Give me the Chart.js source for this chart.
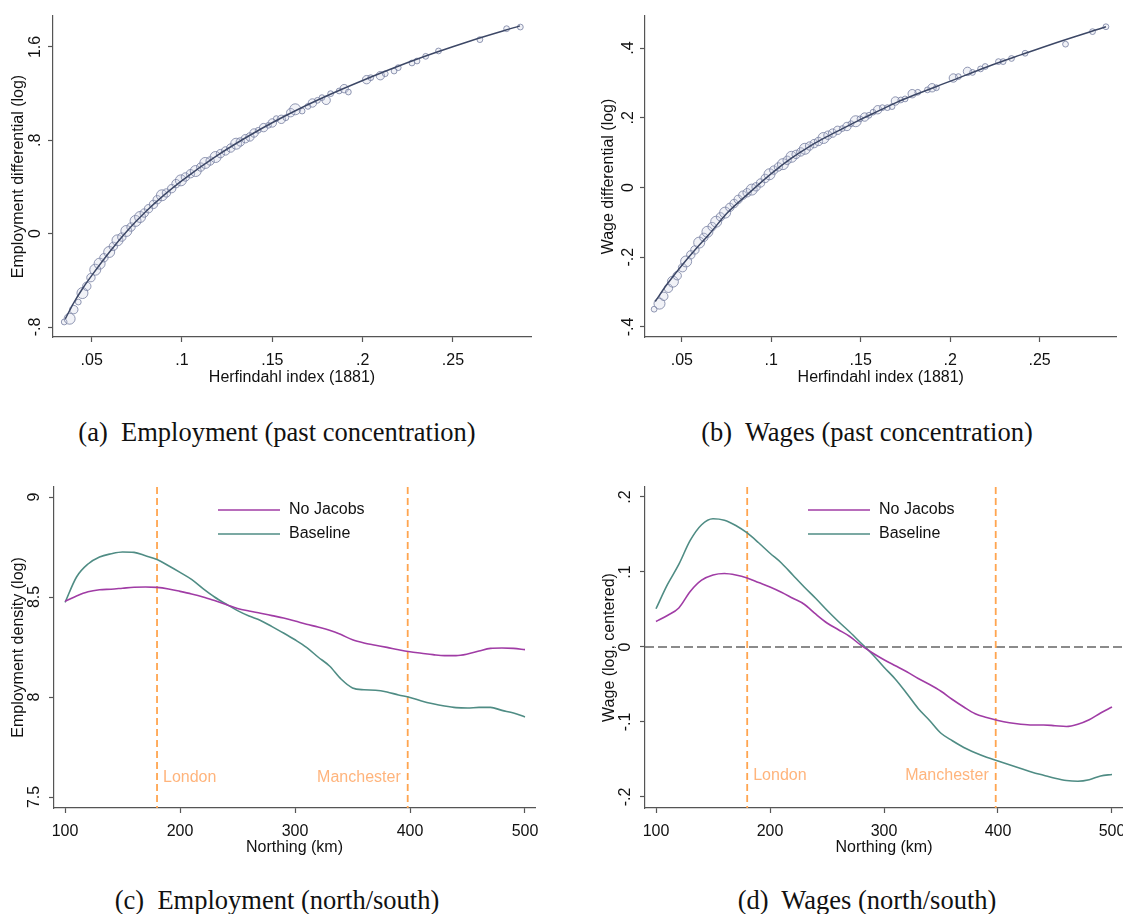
<!DOCTYPE html>
<html>
<head>
<meta charset="utf-8">
<title>Konzentration und Nord/Süd-Gefälle</title>
<script src="https://cdn.jsdelivr.net/npm/chart.js@4.4.1/dist/chart.umd.min.js"></script>
<style>
  body { margin: 0; background: #fff; }
  #page { position: relative; width: 1123px; height: 914px; overflow: hidden; }
  .panel { position: absolute; }
  .caption {
    position: absolute; width: 560px; text-align: center;
    font-family: "Liberation Serif", "Times New Roman", serif;
    font-size: 26.5px; line-height: 30px; color: #111; white-space: nowrap;
  }
</style>
</head>
<body>
<div id="page">
  <canvas id="chartA" class="panel" width="545" height="400" style="left:0;top:0"></canvas>
  <canvas id="chartB" class="panel" width="543" height="400" style="left:580px;top:0"></canvas>
  <canvas id="chartC" class="panel" width="545" height="400" style="left:0;top:470px"></canvas>
  <canvas id="chartD" class="panel" width="533" height="400" style="left:590px;top:470px"></canvas>
  <div class="caption" style="left:-3px;top:417px">(a)&nbsp; Employment (past concentration)</div>
  <div class="caption" style="left:587px;top:417px">(b)&nbsp; Wages (past concentration)</div>
  <div class="caption" style="left:-3px;top:885px">(c)&nbsp; Employment (north/south)</div>
  <div class="caption" style="left:587px;top:885px">(d)&nbsp; Wages (north/south)</div>
</div>
<script>
// Herfindahl-Index 1881 und Beschäftigungsdifferenzial (Punkte, Gewicht = Kreisgröße)
const empHerf = [.0348,.0378,.0401,.0426,.0449,.0473,.0496,.052,.0544,.0568,
  .0597,.062,.0643,.0667,.0692,.0718,.0743,.0768,.0791,.0815,
  .0842,.0863,.0889,.0914,.0943,.0967,.0994,.1019,.1047,.1076,
  .1104,.1129,.1156,.1186,.1213,.1241,.127,.13,.1323,.1351,
  .1376,.1399,.1422,.1452,.1479,.15,.1522,.155,.1575,.1602,
  .1627,.1665,.1697,.1722,.175,.1775,.1798,.1823,.187,.1898,
  .1921,.2022,.2045,.2098,.2125,.2174,.2197,.2273,.2301,.2349,
  .242,.2649,.2797,.2873];
const empDiff = [-.757,-.729,-.651,-.586,-.509,-.451,-.377,-.309,-.257,-.206,
  -.157,-.109,-.057,-.029,.023,.057,.109,.143,.177,.214,
  .251,.291,.329,.349,.386,.429,.457,.486,.514,.537,
  .571,.606,.623,.657,.686,.709,.734,.771,.786,.814,
  .829,.863,.886,.909,.929,.949,.986,.98,.994,1.037,
  1.066,1.051,1.091,1.12,1.143,1.166,1.143,1.2,1.223,1.243,
  1.214,1.32,1.337,1.354,1.371,1.394,1.423,1.463,1.48,1.52,
  1.566,1.663,1.757,1.771];
const empWeight = [1,3,2,1,3,2,2,3,3,2, 3,2,3,2,3,2,3,3,2,2, 2,2,3,2,2,2,3,2,2,3,
  2,3,2,3,2,2,2,3,2,2, 2,2,1,2,1,2,1,2,1,2, 3,1,1,2,1,1,2,1,1,2,
  1,2,1,2,1,1,1,1,1,1, 1,1,1,1];
// angepasste Kurve
const empFitX = [.0354,.04,.045,.05,.06,.07,.08,.09,.1,.12,.14,.16,.18,.2,.22,.24,.26,.2871];
const empFitY = [-.73,-.595,-.47,-.36,-.155,.03,.19,.33,.455,.675,.865,1.032,1.18,1.313,1.437,1.55,1.654,1.781];
const empTicksX = [.05,.1,.15,.2,.25];
const empTicksY = [-.8,0,.8,1.6];

// Herfindahl-Index 1881 und Lohndifferenzial
const wageHerf = [.0345,.0375,.0399,.0425,.045,.0474,.0504,.0524,.055,.0573,
  .0597,.0623,.0643,.0669,.0692,.0716,.0742,.0768,.0792,.0815,
  .0841,.0865,.0891,.0915,.094,.0966,.099,.1014,.104,.1065,
  .1089,.1113,.1139,.1165,.1188,.1214,.124,.1264,.1292,.1317,
  .1343,.1371,.1397,.1423,.1446,.1472,.1496,.1522,.1546,.1569,
  .1595,.1621,.1649,.1675,.1694,.1724,.1748,.1788,.1819,.1873,
  .1899,.1923,.2018,.2046,.2097,.2125,.217,.2196,.227,.2296,
  .2343,.2419,.2645,.2796,.2871];
const wageDiff = [-.349,-.333,-.312,-.289,-.27,-.253,-.23,-.212,-.193,-.179,
  -.158,-.143,-.127,-.112,-.098,-.084,-.072,-.057,-.046,-.034,
  -.022,-.015,-.006,.002,.013,.026,.038,.05,.059,.067,
  .078,.088,.095,.102,.111,.119,.126,.132,.142,.15,
  .156,.164,.169,.175,.183,.19,.197,.202,.207,.216,
  .223,.229,.229,.232,.248,.251,.254,.269,.273,.28,
  .286,.286,.314,.318,.333,.33,.34,.347,.361,.361,
  .37,.385,.411,.447,.461];
const wageWeight = [1,3,2,2,3,2,2,3,2,2, 3,2,3,2,3,2,3,2,2,2, 2,2,3,2,2,2,3,2,2,3,
  2,3,2,2,3,2,2,2,3,2, 2,2,1,2,1,3,1,2,1,1, 2,1,1,1,2,1,1,2,1,1,
  2,1,2,1,2,1,1,1,1,1, 1,1,1,1,1];
const wageFitX = [.0351,.0415,.0494,.0573,.0653,.0752,.0851,.1,.1109,.1208,.1308,.1407,.1506,.1605,.1704,.1804,.2002,.2201,.2399,.2597,.2871];
const wageFitY = [-.327,-.279,-.227,-.179,-.134,-.074,-.027,.04,.083,.116,.145,.171,.197,.221,.245,.266,.305,.345,.381,.416,.461];
const wageTicksX = [.05,.1,.15,.2,.25];
const wageTicksY = [-.4,-.2,0,.2,.4];

// Nord/Süd-Profil (Northing in km)
const northing = [100,110,120,130,140,150,160,170,180,190,200,210,220,230,240,250,260,270,280,290,
  300,310,320,330,340,350,360,370,380,390,400,410,420,430,440,450,460,470,480,490,500];
const empNoJacobs = [8.478,8.505,8.526,8.536,8.539,8.544,8.549,8.55,8.548,8.54,8.528,8.515,8.5,8.482,8.463,8.443,8.43,8.419,8.407,8.395,
  8.38,8.364,8.35,8.334,8.312,8.286,8.27,8.259,8.248,8.236,8.226,8.219,8.212,8.207,8.207,8.215,8.23,8.243,8.245,8.243,8.237];
const empBaseline = [8.473,8.6,8.665,8.7,8.716,8.725,8.723,8.706,8.687,8.656,8.623,8.588,8.542,8.5,8.465,8.432,8.405,8.383,8.352,8.32,
  8.286,8.248,8.2,8.155,8.09,8.045,8.036,8.034,8.025,8.01,7.998,7.98,7.966,7.955,7.947,7.945,7.948,7.948,7.933,7.92,7.9];
const wageNoJacobs = [.034,.042,.052,.074,.089,.096,.098,.096,.092,.086,.08,.073,.065,.057,.044,.032,.023,.014,.002,-.008,
  -.017,-.025,-.033,-.042,-.05,-.059,-.07,-.08,-.089,-.094,-.098,-.101,-.103,-.104,-.104,-.105,-.106,-.103,-.097,-.088,-.08];
const wageBaseline = [.051,.083,.11,.142,.163,.171,.169,.162,.152,.139,.125,.112,.096,.08,.065,.049,.034,.02,.005,-.01,
  -.027,-.043,-.062,-.082,-.098,-.115,-.125,-.134,-.141,-.147,-.152,-.157,-.162,-.167,-.171,-.175,-.178,-.179,-.177,-.172,-.17];
const northTicksX = [100,200,300,400,500];
const empDensTicksY = [7.5,8,8.5,9];
const wageLogTicksY = [-.2,-.1,0,.1,.2];
const cityNames = ['London', 'Manchester'];
const cityNorthing = [180, 398];

Chart.defaults.font.family = '"Liberation Sans", Arial, sans-serif';
Chart.defaults.font.size = 16;
Chart.defaults.color = '#111';
Chart.defaults.animation = false;

const axisColor = '#555';
const fitColor = '#3c4766';
const purple = '#a03ca5';
const teal = '#4f8c84';

// Stata-Stil: ".8" statt "0.8"
function stataLabel(v) {
  if (v === 0) return '0';
  return String(v).replace(/^(-?)0\./, '$1.');
}

function fixedTicks(values) {
  return function (scale) {
    scale.ticks = values.map(v => ({ value: v }));
  };
}

function xAxis(o) {
  return {
    type: 'linear', min: o.min, max: o.max,
    afterBuildTicks: fixedTicks(o.ticks),
    // feste Höhe, kein Extra-Rand für die äußeren Beschriftungen
    afterFit: s => { s.height = o.height; s.paddingLeft = 0; s.paddingRight = 0; },
    border: { display: true, color: axisColor, width: 1.2 },
    grid: { drawOnChartArea: false, drawTicks: true, tickLength: 5, tickColor: axisColor, tickWidth: 1.2 },
    ticks: { padding: o.tickPad, autoSkip: false, maxRotation: 0, callback: v => stataLabel(v) },
    title: { display: true, text: o.title, padding: { top: 0, bottom: o.titlePad } }
  };
}

function yAxis(o) {
  return {
    type: 'linear', min: o.min, max: o.max,
    afterBuildTicks: fixedTicks(o.ticks),
    afterFit: s => { s.width = o.width; s.paddingTop = 0; s.paddingBottom = 0; },
    border: { display: true, color: axisColor, width: 1.2 },
    grid: { drawOnChartArea: false, drawTicks: true, tickLength: 5, tickColor: axisColor, tickWidth: 1.2 },
    ticks: { padding: o.tickPad, autoSkip: false, minRotation: 90, maxRotation: 90, crossAlign: 'center', callback: v => stataLabel(v) },
    title: { display: true, text: o.title, padding: { top: o.titlePad, bottom: 0 } }
  };
}

function points(xs, ys) {
  return xs.map((x, i) => ({ x: x, y: ys[i] }));
}

function bubbles(xs, ys, ws) {
  return xs.map((x, i) => ({ x: x, y: ys[i], r: 1.6 + 1.3 * ws[i] }));
}

// Streudiagramm mit angepasster Kurve
function scatterChart(id, d) {
  return new Chart(document.getElementById(id), {
    type: 'bubble',
    data: {
      datasets: [
        { type: 'line', data: points(d.fitX, d.fitY), borderColor: fitColor, borderWidth: 1.5,
          pointRadius: 0, tension: 0.4, cubicInterpolationMode: 'monotone' },
        { type: 'bubble', data: bubbles(d.x, d.y, d.w), borderColor: 'rgba(118,126,160,0.8)',
          backgroundColor: 'rgba(200,204,222,0.25)', borderWidth: 1 }
      ]
    },
    options: {
      responsive: false,
      layout: { padding: { top: d.padTop, right: d.padRight, left: 0, bottom: 0 } },
      plugins: { legend: { display: false }, tooltip: { enabled: false } },
      scales: { x: xAxis(d.xAxis), y: yAxis(d.yAxis) }
    }
  });
}

// gestrichelte Linien für London/Manchester und ggf. Nulllinie
const cityLines = {
  id: 'cityLines',
  beforeDatasetsDraw(chart, args, opts) {
    const { ctx, chartArea, scales: { x, y } } = chart;
    ctx.save();
    if (opts.zeroLine) {
      const py = y.getPixelForValue(0);
      ctx.setLineDash([9, 4]);
      ctx.strokeStyle = '#666';
      ctx.lineWidth = 1.3;
      ctx.beginPath(); ctx.moveTo(chartArea.left, py); ctx.lineTo(chartArea.right, py); ctx.stroke();
    }
    ctx.font = '16px "Liberation Sans", Arial, sans-serif';
    ctx.textBaseline = 'middle';
    cityNorthing.forEach((v, i) => {
      const px = x.getPixelForValue(v);
      ctx.setLineDash([7, 4]);
      ctx.strokeStyle = '#ffa550';
      ctx.lineWidth = 1.8;
      ctx.beginPath(); ctx.moveTo(px, chartArea.top); ctx.lineTo(px, chartArea.bottom); ctx.stroke();
      ctx.fillStyle = '#ffb47c';
      ctx.textAlign = i === 0 ? 'left' : 'right';
      ctx.fillText(cityNames[i], px + (i === 0 ? 6 : -7), y.getPixelForValue(opts.labelLevel));
    });
    ctx.restore();
  }
};

// Legende im Stata-Stil (Linienstück + Text)
const lineLegend = {
  id: 'lineLegend',
  afterDraw(chart, args, opts) {
    const ctx = chart.ctx;
    ctx.save();
    ctx.font = '16px "Liberation Sans", Arial, sans-serif';
    ctx.textBaseline = 'middle';
    ctx.textAlign = 'left';
    chart.data.datasets.forEach((ds, i) => {
      const yy = opts.top + i * opts.rowGap;
      ctx.strokeStyle = ds.borderColor;
      ctx.lineWidth = ds.borderWidth;
      ctx.beginPath(); ctx.moveTo(opts.left, yy); ctx.lineTo(opts.left + opts.sample, yy); ctx.stroke();
      ctx.fillStyle = '#111';
      ctx.fillText(ds.label, opts.left + opts.sample + opts.gap, yy);
    });
    ctx.restore();
  }
};

function profileChart(id, d) {
  return new Chart(document.getElementById(id), {
    type: 'line',
    data: {
      datasets: [
        { label: 'No Jacobs', data: points(northing, d.noJacobs), borderColor: purple, borderWidth: 1.6,
          pointRadius: 0, tension: 0.4, cubicInterpolationMode: 'monotone' },
        { label: 'Baseline', data: points(northing, d.baseline), borderColor: teal, borderWidth: 1.6,
          pointRadius: 0, tension: 0.4, cubicInterpolationMode: 'monotone' }
      ]
    },
    options: {
      responsive: false,
      layout: { padding: { top: 17, right: d.padRight, left: 0, bottom: 0 } },
      plugins: {
        legend: { display: false }, tooltip: { enabled: false },
        cityLines: { labelLevel: d.labelLevel, zeroLine: d.zeroLine },
        lineLegend: { left: 218, top: 40, rowGap: 24, sample: 62, gap: 9 }
      },
      scales: { x: xAxis(d.xAxis), y: yAxis(d.yAxis) }
    },
    plugins: [cityLines, lineLegend]
  });
}

scatterChart('chartA', {
  x: empHerf, y: empDiff, w: empWeight, fitX: empFitX, fitY: empFitY,
  padTop: 16, padRight: 14,
  xAxis: { min: .0286, max: .2932, ticks: empTicksX, height: 63, tickPad: 9, titlePad: 13, title: 'Herfindahl index (1881)' },
  yAxis: { min: -.8857, max: 1.8657, ticks: empTicksY, width: 53, tickPad: 1, titlePad: 9, title: 'Employment differential (log)' }
});

scatterChart('chartB', {
  x: wageHerf, y: wageDiff, w: wageWeight, fitX: wageFitX, fitY: wageFitY,
  padTop: 16, padRight: 0,
  xAxis: { min: .0294, max: .293, ticks: wageTicksX, height: 63, tickPad: 9, titlePad: 13, title: 'Herfindahl index (1881)' },
  yAxis: { min: -.4287, max: .4918, ticks: wageTicksY, width: 65, tickPad: 2, titlePad: 19, title: 'Wage differential (log)' }
});

profileChart('chartC', {
  noJacobs: empNoJacobs, baseline: empBaseline, padRight: 10, labelLevel: 7.595, zeroLine: false,
  xAxis: { min: 90.4, max: 508.7, ticks: northTicksX, height: 62, tickPad: 9, titlePad: 13, title: 'Northing (km)' },
  yAxis: { min: 7.445, max: 9.05, ticks: empDensTicksY, width: 54, tickPad: 3, titlePad: 9, title: 'Employment density (log)' }
});

profileChart('chartD', {
  noJacobs: wageNoJacobs, baseline: wageBaseline, padRight: 0, labelLevel: -.172, zeroLine: true,
  xAxis: { min: 90.35, max: 509.65, ticks: northTicksX, height: 62, tickPad: 9, titlePad: 13, title: 'Northing (km)' },
  yAxis: { min: -.2147, max: .2133, ticks: wageLogTicksY, width: 55, tickPad: 5, titlePad: 10, title: 'Wage (log, centered)' }
});
</script>
</body>
</html>
